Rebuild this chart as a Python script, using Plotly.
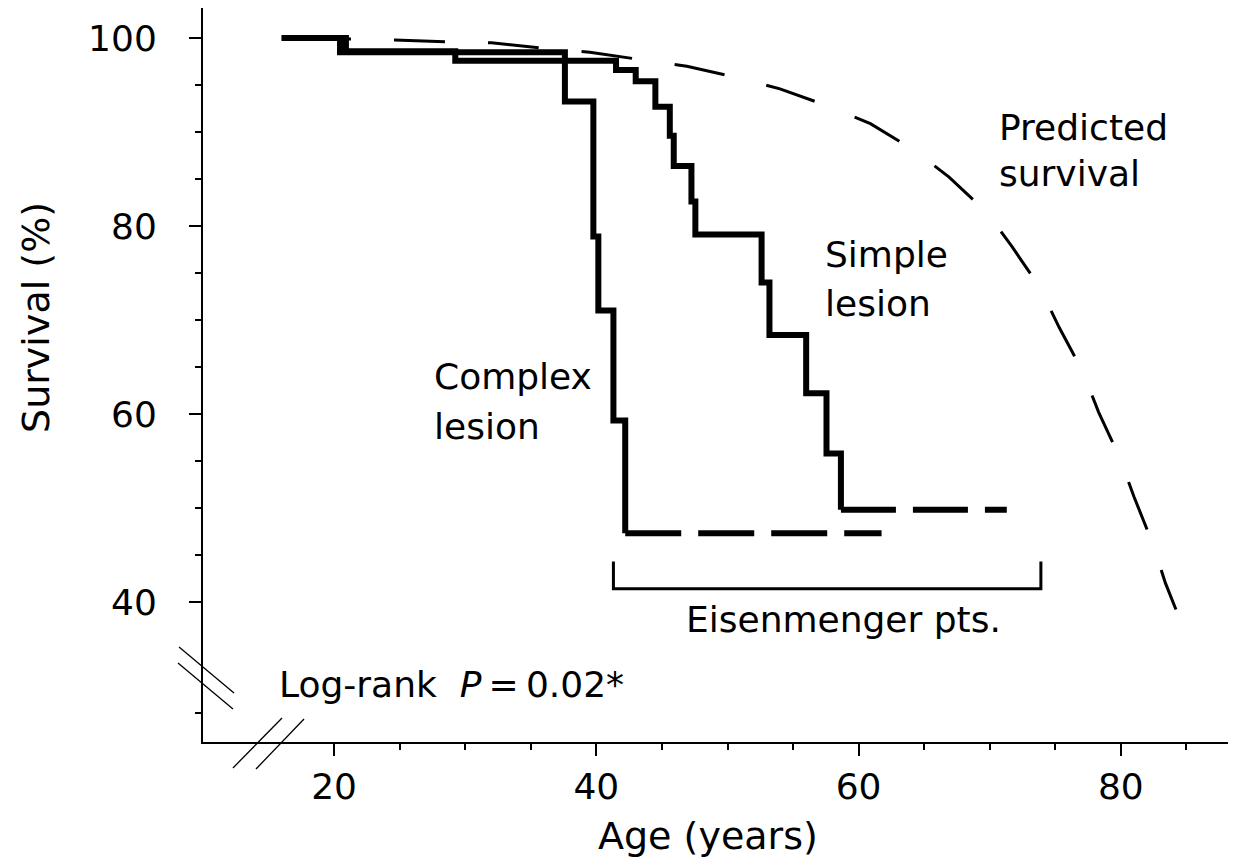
import plotly.graph_objects as go

# ---------------- data ----------------
complex_age = [16.0, 20.45, 37.6, 39.77, 40.15, 41.3, 42.2]
complex_surv = [100.0, 98.5, 93.25, 78.9, 71.0, 59.3, 47.3]
complex_tail_age = [42.2, 61.75]
complex_tail_surv = [47.3, 47.3]

simple_age = [16.0, 20.9, 29.24, 41.5, 43.0, 44.5, 45.6, 45.9, 47.25, 47.55,
              52.6, 53.2, 56.0, 57.55, 58.65]
simple_surv = [100.0, 98.6, 97.6, 96.6, 95.4, 92.7, 89.6, 86.4, 82.6, 79.1,
               74.0, 68.4, 62.2, 55.8, 49.8]
simple_tail_age = [58.65, 71.3]
simple_tail_surv = [49.8, 49.8]

pred_age = [17.4, 24.6, 28.5, 32.0, 36.0, 39.5, 43.4, 46.9, 50.7, 54.0, 57.8,
            60.9, 64.3, 66.9, 69.8, 71.7, 73.8, 75.3, 77.1, 78.3, 79.9, 81.0,
            82.4, 83.4, 84.2]
pred_surv = [100.0, 99.8, 99.6, 99.5, 98.9, 98.5, 97.7, 97.0, 95.8, 94.6, 92.7,
             90.9, 88.0, 85.2, 81.4, 77.8, 73.5, 69.2, 64.5, 60.2, 55.4, 51.2,
             46.3, 42.0, 39.2]

eis_age = [41.3, 41.3, 73.9, 73.9]
eis_level = [44.3, 41.4, 41.4, 44.3]

x_major = [20, 40, 60, 80]
x_minor = [25, 30, 35, 45, 50, 55, 65, 70, 75, 85]
y_major = [40, 60, 80, 100]
y_minor = [28.2, 45, 50, 55, 65, 70, 75, 85, 90, 95]

FONT = "DejaVu Sans, Liberation Sans, Arial, sans-serif"
FS = 36
FS_TITLE = 38

fig = go.Figure()

fig.add_trace(go.Scatter(x=pred_age, y=pred_surv, mode="lines",
                         line=dict(color="black", width=3, dash="51px,43px"),
                         hoverinfo="skip"))
fig.add_trace(go.Scatter(x=simple_age, y=simple_surv, mode="lines",
                         line=dict(color="black", width=6, shape="hv"),
                         hoverinfo="skip"))
fig.add_trace(go.Scatter(x=simple_tail_age, y=simple_tail_surv, mode="lines",
                         line=dict(color="black", width=6, dash="55px,17px"),
                         hoverinfo="skip"))
fig.add_trace(go.Scatter(x=complex_age, y=complex_surv, mode="lines",
                         line=dict(color="black", width=6, shape="hv"),
                         hoverinfo="skip"))
fig.add_trace(go.Scatter(x=complex_tail_age, y=complex_tail_surv, mode="lines",
                         line=dict(color="black", width=6, dash="56px,17px"),
                         hoverinfo="skip"))
fig.add_trace(go.Scatter(x=eis_age, y=eis_level, mode="lines",
                         line=dict(color="black", width=3),
                         hoverinfo="skip"))

def ann(text, x, y, xanchor="left", **kw):
    return dict(text=text, x=x, y=y, xref="x", yref="y", showarrow=False,
                xanchor=xanchor, yanchor="middle",
                font=dict(family=FONT, size=FS, color="black"), **kw)

annotations = [
    ann("Predicted", 70.55, 90.49),
    ann("survival", 70.55, 85.54),
    ann("Simple", 57.28, 76.92),
    ann("lesion", 57.28, 71.71),
    ann("Complex", 27.46, 64.04),
    ann("lesion", 27.46, 58.62),
    ann("Eisenmenger pts.", 58.88, 38.13, xanchor="center"),
    ann("Log-rank\u00a0\u00a0<i>P</i>\u2009=\u20090.02*", 15.64, 31.22),
    dict(text="Survival (%)", x=-0.1617, y=0.579, xref="paper", yref="paper",
         showarrow=False, textangle=-90, xanchor="center", yanchor="middle",
         font=dict(family=FONT, size=FS_TITLE, color="black")),
    dict(text="Age (years)", x=0.489, y=-0.128, xref="paper", yref="paper",
         showarrow=False, xanchor="center", yanchor="middle",
         font=dict(family=FONT, size=FS_TITLE, color="black")),
]

# axis break marks (paper coordinates)
brk = [(-0.0232, 0.1294, 0.0300, 0.0668), (-0.0242, 0.1076, 0.0290, 0.0450),
       (0.0290, -0.0354, 0.0765, 0.0327), (0.0513, -0.0368, 0.0978, 0.0313)]
shapes = [dict(type="line", xref="paper", yref="paper", x0=a, y0=b, x1=c, y1=d,
               line=dict(color="black", width=1.3)) for a, b, c, d in brk]

axis_common = dict(showline=True, linecolor="black", linewidth=2,
                   ticks="outside", ticklen=12, tickwidth=2, tickcolor="black",
                   showgrid=False, zeroline=False,
                   tickfont=dict(family=FONT, size=FS, color="black"))

# the page body has an 8px default margin: the figure is sized/offset for it
fig.update_layout(
    width=1228, height=856,
    margin=dict(l=195, r=0, t=0, b=122, pad=0),
    paper_bgcolor="white", plot_bgcolor="white",
    showlegend=False,
    xaxis=dict(range=[10, 88.78], tickmode="array", tickvals=x_major,
               minor=dict(tickmode="array", tickvals=x_minor, ticks="outside",
                          ticklen=6, tickwidth=2, tickcolor="black"),
               ticklabelstandoff=0, **axis_common),
    yaxis=dict(range=[25.1, 103.2], tickmode="array", tickvals=y_major,
               minor=dict(tickmode="array", tickvals=y_minor, ticks="outside",
                          ticklen=6, tickwidth=2, tickcolor="black"),
               ticklabelstandoff=25, **axis_common),
    annotations=annotations,
    shapes=shapes,
)

fig.write_html("out.html")
